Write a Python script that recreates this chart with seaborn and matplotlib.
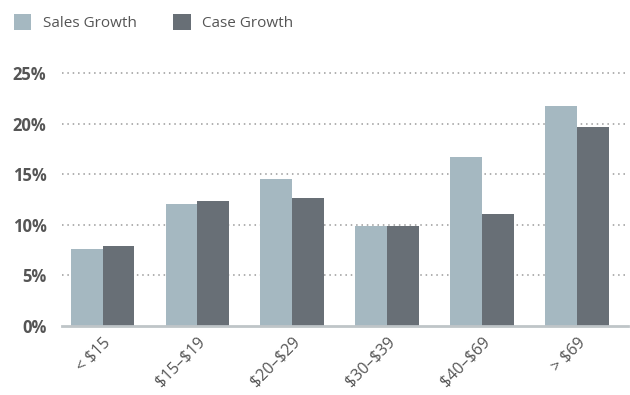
import matplotlib
matplotlib.use("Agg")
import matplotlib.pyplot as plt
from matplotlib.patches import Patch
import seaborn as sns
import pandas as pd

categories = ["< $15", "$15–$19", "$20–$29", "$30–$39", "$40–$69", "> $69"]
sales_growth = [7.6, 12.0, 14.5, 9.9, 16.7, 21.7]
case_growth = [7.9, 12.3, 12.6, 9.9, 11.1, 19.7]
series_names = ["Sales Growth", "Case Growth"]
y_ticks = [0, 5, 10, 15, 20, 25]

colors = {"Sales Growth": "#a5b8c1", "Case Growth": "#686f76"}

df = pd.DataFrame({
    "category": categories * 2,
    "value": sales_growth + case_growth,
    "series": [series_names[0]] * len(categories) + [series_names[1]] * len(categories),
})

sns.set_style("white")
plt.rcParams["font.family"] = ["Open Sans", "DejaVu Sans"]
plt.rcParams["text.parse_math"] = False

fig = plt.figure(figsize=(6.3, 3.95), dpi=100)
ax = fig.add_axes([0.098, 0.175, 0.899, 0.666])

sns.barplot(data=df, x="category", y="value", hue="series", order=categories,
            hue_order=series_names, palette=colors, width=0.67, ax=ax,
            legend=False, edgecolor="none", saturation=1)

ax.set_ylim(0, 26)
ax.set_xlim(-0.43, 5.54)
ax.set_yticks(y_ticks)
ax.set_yticklabels([f"{t}%" for t in y_ticks], fontsize=12, fontweight="bold", color="#555555")
ax.tick_params(axis="y", length=0, pad=11)
ax.tick_params(axis="x", length=0, pad=6)
for lbl in ax.get_xticklabels():
    lbl.set_rotation(45)
    lbl.set_ha("right")
    lbl.set_rotation_mode("anchor")
    lbl.set_fontsize(11.5)
    lbl.set_color("#555555")

ax.set_xlabel("")
ax.set_ylabel("")
for s in ["top", "right", "left"]:
    ax.spines[s].set_visible(False)
ax.spines["bottom"].set_color("#bfc5c8")
ax.spines["bottom"].set_linewidth(2)

for t in y_ticks[1:]:
    ax.axhline(t, color="#9a9a9a", linestyle=(0, (1, 2.5)), linewidth=1.1, zorder=0)
ax.set_axisbelow(True)

handles = [Patch(facecolor=colors[n], edgecolor="none") for n in series_names]
fig.legend(handles, series_names, loc="upper left", bbox_to_anchor=(0.0, 1.0),
           ncol=2, frameon=False, fontsize=11, handlelength=1.15, handleheight=1.3,
           handletextpad=0.75, columnspacing=2.4, labelcolor="#555555")

fig.savefig("out.png", dpi=100)
